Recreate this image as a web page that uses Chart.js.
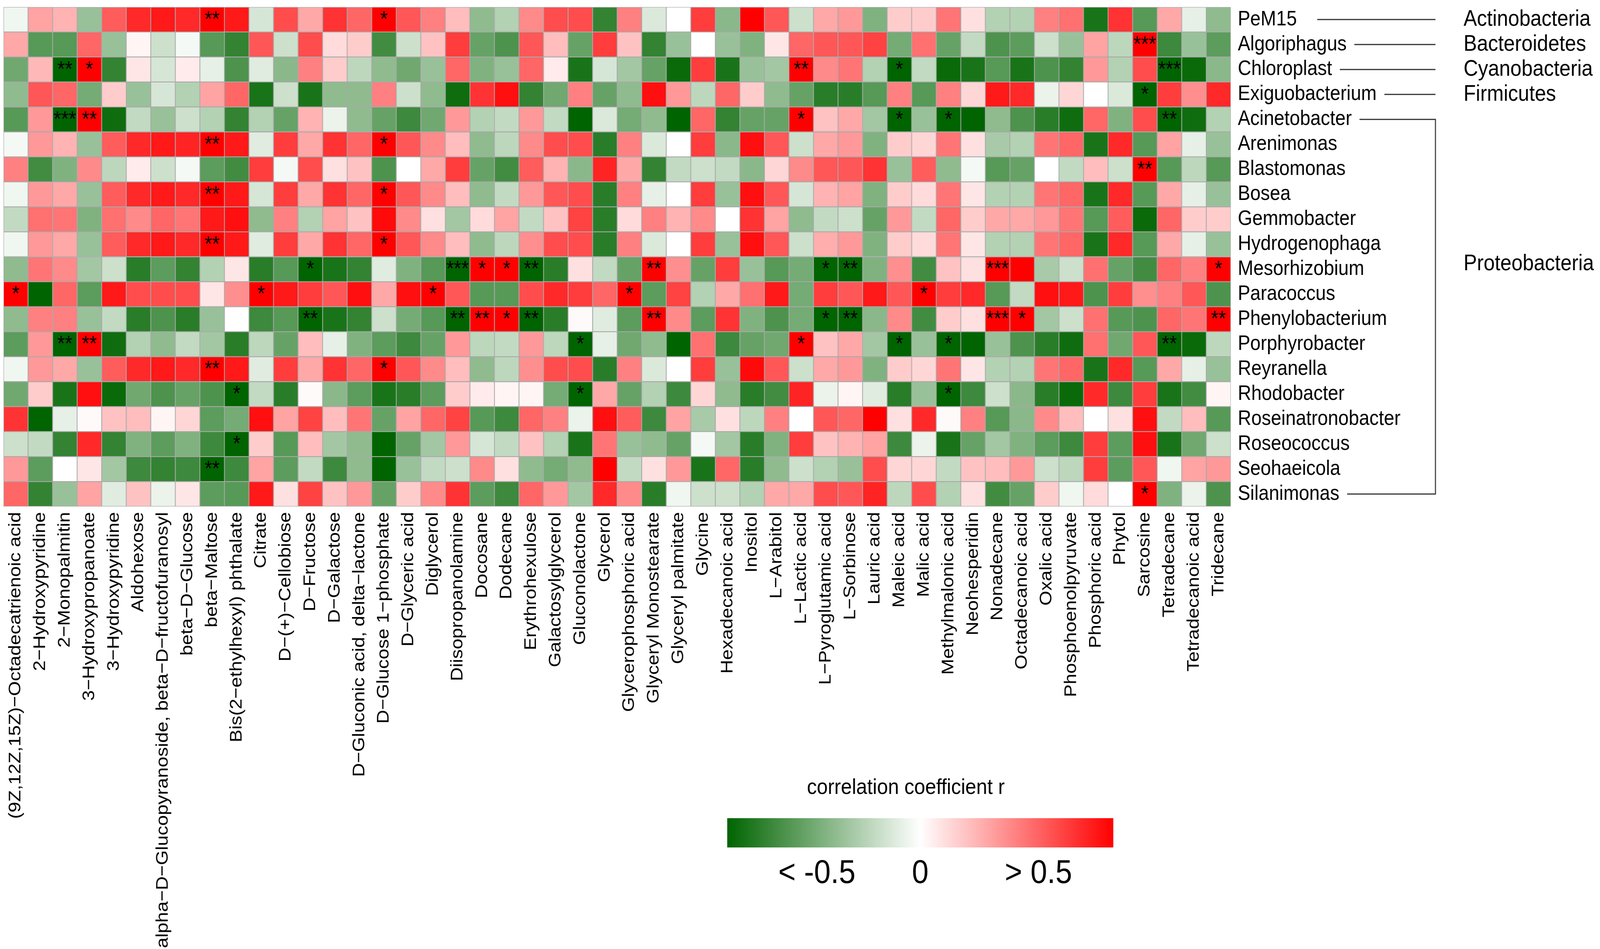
<!DOCTYPE html>
<html>
<head>
<meta charset="utf-8">
<title>Correlation heatmap</title>
<script src="https://cdn.jsdelivr.net/npm/chart.js@4.4.1/dist/chart.umd.min.js"></script>
<style>
  html, body { margin: 0; padding: 0; background: #fff; overflow: hidden; }
  #heatmap { display: block; width: 100vw; height: 100vh; }
</style>
</head>
<body>
<canvas id="heatmap" width="4550" height="2430" style="width:100vw;height:100vh"></canvas>
<script>
// columns (metabolites)
var metabolites = [
  '(9Z,12Z,15Z)\u2212Octadecatrienoic acid', '2\u2212Hydroxypyridine', '2\u2212Monopalmitin',
  '3\u2212Hydroxypropanoate', '3\u2212Hydroxypyridine', 'Aldohexose',
  'alpha\u2212D\u2212Glucopyranoside, beta\u2212D\u2212fructofuranosyl', 'beta\u2212D\u2212Glucose',
  'beta\u2212Maltose', 'Bis(2\u2212ethylhexyl) phthalate', 'Citrate', 'D\u2212(+)\u2212Cellobiose',
  'D\u2212Fructose', 'D\u2212Galactose', 'D\u2212Gluconic acid, delta\u2212lactone',
  'D\u2212Glucose 1\u2212phosphate', 'D\u2212Glyceric acid', 'Diglycerol', 'Diisopropanolamine',
  'Docosane', 'Dodecane', 'Erythrohexulose', 'Galactosylglycerol', 'Gluconolactone', 'Glycerol',
  'Glycerophosphoric acid', 'Glyceryl Monostearate', 'Glyceryl palmitate', 'Glycine',
  'Hexadecanoic acid', 'Inositol', 'L\u2212Arabitol', 'L\u2212Lactic acid', 'L\u2212Pyroglutamic acid',
  'L\u2212Sorbinose', 'Lauric acid', 'Maleic acid', 'Malic acid', 'Methylmalonic acid',
  'Neohesperidin', 'Nonadecane', 'Octadecanoic acid', 'Oxalic acid', 'Phosphoenolpyruvate',
  'Phosphoric acid', 'Phytol', 'Sarcosine', 'Tetradecane', 'Tetradecanoic acid', 'Tridecane'
];

// rows (genera)
var genera = ['PeM15', 'Algoriphagus', 'Chloroplast', 'Exiguobacterium', 'Acinetobacter',
  'Arenimonas', 'Blastomonas', 'Bosea', 'Gemmobacter', 'Hydrogenophaga', 'Mesorhizobium',
  'Paracoccus', 'Phenylobacterium', 'Porphyrobacter', 'Reyranella', 'Rhodobacter',
  'Roseinatronobacter', 'Roseococcus', 'Seohaeicola', 'Silanimonas'];

// phylum name, first row, last row
var phyla = [
  ['Actinobacteria', 0, 0],
  ['Bacteroidetes', 1, 1],
  ['Cyanobacteria', 2, 2],
  ['Firmicutes', 3, 3],
  ['Proteobacteria', 4, 19]
];

// correlation coefficient r, one array per genus (50 metabolites each)
var PeM15 = [-0.03,0.18,0.15,-0.2,0.32,0.42,0.45,0.42,0.55,0.45, -0.08,0.35,0.17,0.4,0.3,0.55,0.33,0.25,0.13,-0.22, -0.15,0.23,0.35,0.35,-0.4,0.25,-0.07,0,0.38,-0.23, 0.5,0.33,-0.1,0.17,0.2,-0.25,0.1,0.1,0.27,0.06, -0.15,-0.15,0.25,0.28,-0.45,0.4,-0.33,0.17,-0.05,-0.22];
var Algoriphagus = [0.17,-0.33,-0.33,0.3,-0.2,0.02,-0.1,-0.02,-0.33,-0.4, 0.33,-0.1,0.35,0.07,0.1,-0.37,-0.1,0.12,0.38,-0.3, -0.35,0.33,0.13,-0.3,0.38,0.12,-0.4,-0.2,0,-0.2, -0.25,0.05,0.3,0.33,0.33,0.37,-0.27,0.28,-0.3,-0.12, -0.35,-0.32,-0.1,-0.2,0.18,-0.13,0.6,-0.38,-0.2,-0.32];
var Chloroplast = [-0.28,0.14,-0.55,0.52,-0.4,0.05,-0.08,0.04,-0.05,-0.35, -0.06,-0.23,0.25,0.1,-0.13,-0.22,-0.28,-0.2,0.3,-0.25, -0.2,0.3,0.04,-0.45,-0.08,-0.18,-0.3,-0.48,0.38,-0.45, -0.2,-0.18,0.58,0.23,0.27,-0.15,-0.55,-0.12,-0.48,-0.45, -0.33,-0.45,-0.35,-0.4,0.2,-0.15,0.35,-0.6,-0.48,-0.23];
var Exiguobacterium = [-0.22,0.33,0.3,-0.27,0.1,-0.2,-0.08,-0.15,0.18,0.3, -0.45,-0.1,-0.45,-0.22,-0.22,0.25,-0.1,-0.22,-0.47,0.4, 0.47,-0.4,-0.28,0.25,-0.3,-0.22,0.47,0.2,-0.13,0.3, 0.1,-0.22,-0.3,-0.42,-0.42,-0.33,0.25,-0.33,0.25,0.08, 0.45,0.42,-0.04,0.08,0,-0.07,-0.55,0.38,0.22,0.42];
var Acinetobacter = [-0.33,0.2,-0.55,0.55,-0.47,-0.12,-0.2,-0.1,-0.15,-0.4, -0.15,-0.3,0.15,-0.04,-0.22,-0.3,-0.38,-0.28,0.2,-0.15, -0.12,0.2,-0.12,-0.5,-0.07,-0.27,-0.22,-0.5,0.3,-0.4, -0.3,-0.3,0.55,0.12,0.17,-0.18,-0.55,-0.2,-0.55,-0.5, -0.22,-0.35,-0.42,-0.47,0.3,-0.25,0.35,-0.58,-0.47,-0.15];
var Arenimonas = [-0.02,0.2,0.15,-0.2,0.32,0.42,0.45,0.43,0.55,0.45, -0.06,0.38,0.17,0.4,0.3,0.55,0.33,0.23,0.13,-0.22, -0.13,0.23,0.35,0.35,-0.42,0.25,-0.07,0,0.38,-0.23, 0.47,0.33,-0.1,0.17,0.2,-0.25,0.1,0.08,0.27,0.06, -0.17,-0.15,0.27,0.3,-0.45,0.42,-0.33,0.18,-0.05,-0.2];
var Blastomonas = [0.25,-0.37,-0.25,0.23,-0.13,0.04,-0.1,-0.02,-0.32,-0.37, 0.38,-0.02,0.35,0.06,0.12,-0.35,0,0.17,0.38,-0.3, -0.37,0.32,0.15,-0.23,0.43,0.17,-0.4,-0.12,-0.1,-0.12, -0.23,0.08,0.23,0.33,0.33,0.4,-0.2,0.32,-0.22,-0.02, -0.33,-0.3,0,-0.12,0.13,-0.1,0.58,-0.33,-0.13,-0.33];
var Bosea = [-0.03,0.2,0.17,-0.2,0.32,0.42,0.45,0.42,0.55,0.45, -0.08,0.38,0.17,0.4,0.3,0.55,0.33,0.23,0.13,-0.22, -0.12,0.2,0.33,0.35,-0.42,0.25,-0.05,0,0.38,-0.2, 0.47,0.33,-0.08,0.15,0.18,-0.25,0.1,0.07,0.27,0.05, -0.15,-0.15,0.27,0.3,-0.45,0.42,-0.33,0.17,-0.05,-0.2];
var Gemmobacter = [-0.12,0.28,0.27,-0.25,0.28,0.23,0.3,0.27,0.45,0.47, -0.22,0.25,-0.15,0.18,0.12,0.48,0.23,0.06,-0.18,0.07, 0.18,-0.12,0.12,0.37,-0.42,0.07,0.25,0.15,0.23,0, 0.4,0.18,-0.22,-0.12,-0.1,-0.3,0.2,-0.12,0.3,0.1, 0.17,0.17,0.2,0.27,-0.33,0.32,-0.48,0.3,0.1,0.1];
var Hydrogenophaga = [-0.03,0.2,0.17,-0.2,0.32,0.42,0.45,0.42,0.55,0.45, -0.06,0.38,0.17,0.4,0.3,0.55,0.33,0.23,0.13,-0.22, -0.13,0.22,0.35,0.35,-0.42,0.25,-0.07,0,0.38,-0.2, 0.47,0.33,-0.1,0.16,0.2,-0.25,0.1,0.07,0.27,0.05, -0.15,-0.15,0.27,0.3,-0.45,0.42,-0.33,0.17,-0.05,-0.2];
var Mesorhizobium = [-0.22,0.27,0.23,-0.18,-0.1,-0.42,-0.32,-0.4,-0.15,0.05, -0.42,-0.33,-0.55,-0.45,-0.4,-0.06,-0.25,-0.33,-0.6,0.55, 0.55,-0.58,-0.42,0.06,-0.12,-0.3,0.58,0.22,-0.3,0.38, -0.2,-0.33,-0.27,-0.55,-0.58,-0.25,0.22,-0.37,0.12,0.06, 0.6,0.5,-0.17,-0.1,0.28,-0.3,-0.37,0.3,0.25,0.55];
var Paracoccus = [0.55,-0.5,0.3,-0.32,0.45,0.35,0.35,0.35,0.05,0.22, 0.52,0.45,0.38,0.33,0.47,0.17,0.47,0.5,0.33,-0.33, -0.33,0.35,0.42,0.38,0.3,0.52,-0.32,0.37,-0.15,0.17, 0.28,0.45,-0.27,0.38,0.33,0.45,0.33,0.55,0.38,0.42, -0.33,-0.12,0.47,0.45,-0.35,0.38,0.22,0.25,0.33,-0.35];
var Phenylobacterium = [-0.22,0.25,0.25,-0.2,-0.12,-0.42,-0.35,-0.42,-0.2,0, -0.38,-0.33,-0.58,-0.45,-0.4,-0.1,-0.27,-0.33,-0.58,0.58, 0.55,-0.58,-0.42,0.01,-0.06,-0.32,0.58,0.23,-0.32,0.4, -0.25,-0.35,-0.27,-0.55,-0.58,-0.23,0.23,-0.37,0.1,0.06, 0.6,0.55,-0.18,-0.1,0.28,-0.33,-0.35,0.3,0.27,0.58];
var Porphyrobacter = [-0.32,0.2,-0.55,0.55,-0.47,-0.15,-0.22,-0.12,-0.18,-0.42, -0.13,-0.3,0.13,-0.05,-0.25,-0.32,-0.38,-0.3,0.2,-0.13, -0.12,0.2,-0.13,-0.55,-0.05,-0.28,-0.22,-0.5,0.28,-0.38, -0.3,-0.28,0.55,0.12,0.17,-0.18,-0.55,-0.2,-0.55,-0.5, -0.2,-0.35,-0.42,-0.47,0.28,-0.28,0.33,-0.58,-0.48,-0.13];
var Reyranella = [-0.03,0.2,0.17,-0.2,0.32,0.42,0.45,0.42,0.55,0.45, -0.06,0.38,0.17,0.4,0.3,0.55,0.33,0.23,0.13,-0.22, -0.13,0.22,0.35,0.35,-0.42,0.25,-0.07,0,0.38,-0.2, 0.48,0.33,-0.1,0.17,0.2,-0.25,0.1,0.08,0.27,0.05, -0.15,-0.15,0.27,0.3,-0.45,0.42,-0.33,0.17,-0.05,-0.2];
var Rhodobacter = [-0.28,0.1,-0.45,0.47,-0.48,-0.28,-0.35,-0.3,-0.35,-0.52, -0.12,-0.42,0.01,-0.23,-0.32,-0.45,-0.42,-0.32,0.1,0.04, 0.02,0.02,-0.27,-0.55,0.17,-0.3,-0.15,-0.38,0.08,-0.22, -0.42,-0.37,0.43,-0.04,0.02,-0.06,-0.42,-0.2,-0.55,-0.38, -0.1,-0.23,-0.42,-0.48,0.42,-0.38,0.38,-0.45,-0.37,0.02];
var Roseinatronobacter = [0.4,-0.5,-0.05,0.01,0.12,0.13,0.02,0.08,-0.32,-0.27, 0.47,0.18,0.37,0.13,0.27,-0.3,0.18,0.3,0.37,-0.33, -0.38,0.3,0.25,-0.04,0.47,0.32,-0.38,0.18,-0.17,0.06, -0.13,0.25,0,0.33,0.3,0.5,0.06,0.42,0.01,0.25, -0.33,-0.23,0.23,0.13,0,0.06,0.47,-0.12,0.13,-0.33];
var Roseococcus = [-0.1,-0.12,-0.4,0.42,-0.4,-0.25,-0.32,-0.25,-0.38,-0.53, 0.1,-0.33,0.13,-0.18,-0.22,-0.5,-0.3,-0.18,0.2,-0.08, -0.12,0.12,-0.15,-0.45,0.27,-0.2,-0.22,-0.3,-0.02,-0.18, -0.42,-0.25,0.38,0.12,0.15,0.18,-0.38,-0.04,-0.45,-0.3, -0.18,-0.25,-0.32,-0.38,0.38,-0.32,0.47,-0.45,-0.28,-0.1];
var Seohaeicola = [0.2,-0.32,0,0.05,-0.18,-0.38,-0.4,-0.38,-0.55,-0.38, 0.18,-0.32,-0.12,-0.38,-0.22,-0.5,-0.2,-0.12,-0.1,0.23, 0.06,-0.22,-0.27,-0.22,0.5,-0.12,0.06,0.2,-0.45,0.3, -0.42,-0.22,-0.1,-0.15,-0.2,0.35,0.08,0.08,-0.12,0.12, 0.13,0.2,-0.1,-0.13,0.38,-0.32,0.33,-0.03,0.18,0.2];
var Silanimonas = [0.3,-0.4,-0.2,0.18,-0.06,0.12,-0.04,0.05,-0.32,-0.33, 0.45,0.06,0.37,0.12,0.2,-0.3,0.1,0.23,0.4,-0.32, -0.38,0.3,0.2,-0.18,0.42,0.23,-0.42,-0.03,-0.1,-0.1, -0.15,0.17,0.17,0.35,0.33,0.43,-0.13,0.35,-0.15,0.06, -0.37,-0.3,0.1,-0.03,0.07,0,0.55,-0.25,-0.04,-0.35];

var corr = [PeM15, Algoriphagus, Chloroplast, Exiguobacterium, Acinetobacter, Arenimonas,
  Blastomonas, Bosea, Gemmobacter, Hydrogenophaga, Mesorhizobium, Paracoccus, Phenylobacterium,
  Porphyrobacter, Reyranella, Rhodobacter, Roseinatronobacter, Roseococcus, Seohaeicola, Silanimonas];

// significance marks: [row, column, mark]
var stars = [
  [0,8,'**'],[0,15,'*'],
  [1,46,'***'],
  [2,2,'**'],[2,3,'*'],[2,32,'**'],[2,36,'*'],[2,47,'***'],
  [3,46,'*'],
  [4,2,'***'],[4,3,'**'],[4,32,'*'],[4,36,'*'],[4,38,'*'],[4,47,'**'],
  [5,8,'**'],[5,15,'*'],
  [6,46,'**'],
  [7,8,'**'],[7,15,'*'],
  [9,8,'**'],[9,15,'*'],
  [10,12,'*'],[10,18,'***'],[10,19,'*'],[10,20,'*'],[10,21,'**'],[10,26,'**'],[10,33,'*'],[10,34,'**'],[10,40,'***'],[10,49,'*'],
  [11,0,'*'],[11,10,'*'],[11,17,'*'],[11,25,'*'],[11,37,'*'],
  [12,12,'**'],[12,18,'**'],[12,19,'**'],[12,20,'*'],[12,21,'**'],[12,26,'**'],[12,33,'*'],[12,34,'**'],[12,40,'***'],[12,41,'*'],[12,49,'**'],
  [13,2,'**'],[13,3,'**'],[13,23,'*'],[13,32,'*'],[13,36,'*'],[13,38,'*'],[13,47,'**'],
  [14,8,'**'],[14,15,'*'],
  [15,9,'*'],[15,23,'*'],[15,38,'*'],
  [17,9,'*'],
  [18,8,'**'],
  [19,46,'*']
];

var scaleTicks = ['< -0.5', '0', '> 0.5'];
var FONT = '"Liberation Sans", Arial, sans-serif';

// darkgreen -> white -> red, saturating at |r| = 0.5
function cellColor(r) {
  var t = Math.max(-1, Math.min(1, r / 0.5));
  var a = Math.abs(t);
  if (t < 0) {
    var rb = Math.round(255 * (1 - a));
    var g = Math.round(255 - 155 * a);
    return 'rgb(' + rb + ',' + g + ',' + rb + ')';
  }
  var gb = Math.round(255 * (1 - a));
  return 'rgb(255,' + gb + ',' + gb + ')';
}

var starPlugin = {
  id: 'stars',
  afterDatasetsDraw: function(chart) {
    var ctx = chart.ctx;
    ctx.save();
    ctx.fillStyle = '#000';
    ctx.font = '55px ' + FONT;
    ctx.textAlign = 'center';
    ctx.textBaseline = 'alphabetic';
    stars.forEach(function(s) {
      var el = chart.getDatasetMeta(s[0]).data[s[1]];
      var p = el.getCenterPoint();
      ctx.fillText(s[2], p.x, p.y + 17);
    });
    ctx.restore();
  }
};

var phylaPlugin = {
  id: 'phyla',
  afterDraw: function(chart) {
    var ctx = chart.ctx;
    var y = chart.scales.y;
    var labelX = chart.chartArea.right + 20;
    var bracketX = chart.chartArea.right + 582;
    ctx.save();
    ctx.font = '53px ' + FONT;
    ctx.strokeStyle = '#333';
    ctx.lineWidth = 3;
    function lineStart(i) {
      return labelX + ctx.measureText(genera[i]).width + (i === 0 ? 58 : 22);
    }
    phyla.forEach(function(p) {
      var y0 = y.getPixelForValue(p[1] + 0.5);
      var y1 = y.getPixelForValue(p[2] + 0.5);
      ctx.beginPath();
      ctx.moveTo(lineStart(p[1]), y0);
      ctx.lineTo(bracketX, y0);
      if (p[2] > p[1]) {
        ctx.lineTo(bracketX, y1);
        ctx.lineTo(lineStart(p[2]), y1);
      }
      ctx.stroke();
    });
    ctx.fillStyle = '#000';
    ctx.font = '57px ' + FONT;
    ctx.textAlign = 'left';
    ctx.textBaseline = 'middle';
    phyla.forEach(function(p) {
      var mid = p[2] > p[1] ? y.getPixelForValue(10.3) : y.getPixelForValue(p[1] + 0.5);
      ctx.fillText(p[0], chart.chartArea.right + 662, mid);
    });
    ctx.restore();
  }
};

var colorBarPlugin = {
  id: 'colorBar',
  afterDraw: function(chart) {
    var ctx = chart.ctx;
    var x0 = 2068, x1 = 3166, top = 2095, h = 75;
    ctx.save();
    var grad = ctx.createLinearGradient(x0, 0, x1, 0);
    for (var k = 0; k <= 20; k++) {
      grad.addColorStop(k / 20, cellColor(-0.5 + k / 20));
    }
    ctx.fillStyle = grad;
    ctx.fillRect(x0, top, x1 - x0, h);
    ctx.fillStyle = '#000';
    ctx.textAlign = 'center';
    ctx.textBaseline = 'alphabetic';
    ctx.font = '56px ' + FONT;
    ctx.fillText('correlation coefficient r', 2576, 2033);
    ctx.font = '85px ' + FONT;
    var tx = [2323, (x0 + x1) / 2, 2953];
    scaleTicks.forEach(function(t, i) {
      ctx.fillText(t, tx[i], 2261);
    });
    ctx.restore();
  }
};

var datasets = genera.map(function(g, i) {
  return {
    label: g,
    data: metabolites.map(function() { return 1; }),
    backgroundColor: corr[i].map(cellColor),
    borderColor: '#a9a9a9',
    borderWidth: 1.5,
    borderSkipped: false,
    barPercentage: 1,
    categoryPercentage: 1
  };
});

var chart = new Chart(document.getElementById('heatmap'), {
  type: 'bar',
  data: { labels: metabolites, datasets: datasets },
  options: {
    responsive: false,
    animation: false,
    devicePixelRatio: 1,
    layout: { padding: { left: 10, top: 18, right: 0, bottom: 0 } },
    plugins: { legend: { display: false }, tooltip: { enabled: false } },
    scales: {
      x: {
        stacked: true,
        grid: { display: false, drawTicks: false },
        border: { display: false },
        ticks: {
          autoSkip: false, minRotation: 90, maxRotation: 90, padding: 14,
          color: '#000', font: { family: FONT, size: 49 }
        },
        afterFit: function(s) { s.height = 1133; s.paddingLeft = 0; s.paddingRight = 0; }
      },
      y: {
        stacked: true,
        position: 'right',
        reverse: true,
        min: 0,
        max: 20,
        grid: { display: false, drawTicks: false },
        border: { display: false },
        afterBuildTicks: function(s) {
          s.ticks = genera.map(function(g, i) { return { value: i + 0.5 }; });
        },
        ticks: {
          padding: 20, color: '#000', font: { family: FONT, size: 53 },
          callback: function(v) { return genera[Math.floor(v)]; }
        },
        afterFit: function(s) { s.width = 1050; s.paddingTop = 0; s.paddingBottom = 0; }
      }
    }
  },
  plugins: [starPlugin, phylaPlugin, colorBarPlugin]
});
</script>
</body>
</html>
